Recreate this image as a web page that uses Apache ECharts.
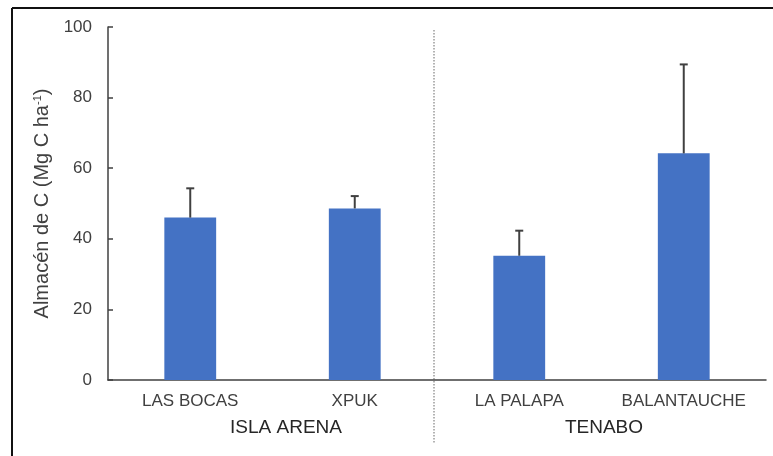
<!DOCTYPE html>
<html>
<head>
<meta charset="utf-8">
<script src="https://cdn.jsdelivr.net/npm/echarts@6/dist/echarts.min.js"></script>
<style>html,body{margin:0;padding:0;background:#fff;}#c{width:773px;height:456px;}</style>
</head>
<body>
<div id="c"></div>
<script>
const categories = ['LAS BOCAS', 'XPUK', 'LA PALAPA', 'BALANTAUCHE'];
const values = [46.0, 48.6, 35.2, 64.2];
const errors = [8.3, 3.5, 7.1, 25.2];
const groups = ['ISLA ARENA', 'TENABO'];
const yTicks = [0, 20, 40, 60, 80, 100];

const chart = echarts.init(document.getElementById('c'), null, {renderer: 'canvas'});
const font = '"Liberation Sans", Arial, sans-serif';
const errData = values.map((v, i) => [i, v, v + errors[i]]);

chart.setOption({
  animation: false,
  backgroundColor: '#fff',
  grid: {left: 108, right: 7, top: 27, bottom: 76, containLabel: false},
  xAxis: {
    type: 'category',
    data: categories,
    axisLine: {lineStyle: {color: '#404040', width: 1.5}},
    axisTick: {show: false},
    axisLabel: {fontSize: 17, color: '#404040', fontFamily: font, margin: 13, interval: 0}
  },
  yAxis: {
    type: 'value',
    min: yTicks[0], max: yTicks[yTicks.length - 1], interval: 20,
    name: 'Almacén de C (Mg C ha{sup|-1})',
    nameLocation: 'middle', nameRotate: 90, nameGap: 46,
    nameTextStyle: {fontSize: 20, color: '#404040', fontFamily: font,
      rich: {sup: {fontSize: 11, verticalAlign: 'top', color: '#404040', fontFamily: font, padding: [0,0,8,0]}}},
    axisLine: {show: true, lineStyle: {color: '#404040', width: 1.5}},
    axisTick: {show: true, inside: true, length: 5, lineStyle: {color: '#404040', width: 1.5}},
    splitLine: {show: false},
    axisLabel: {fontSize: 17, color: '#404040', fontFamily: font, margin: 16}
  },
  series: [
    {
      type: 'bar',
      data: values,
      barWidth: '31.5%',
      itemStyle: {color: '#4472C4'},
      z: 2
    },
    {
      type: 'custom',
      data: errData,
      z: 3,
      renderItem: function (params, api) {
        const x = api.value(0);
        const p0 = api.coord([x, api.value(1)]);
        const p1 = api.coord([x, api.value(2)]);
        const style = {stroke: '#404040', lineWidth: 2};
        return {
          type: 'group',
          children: [
            {type: 'line', shape: {x1: p0[0], y1: p0[1], x2: p1[0], y2: p1[1]}, style: style},
            {type: 'line', shape: {x1: p1[0] - 4, y1: p1[1], x2: p1[0] + 4, y2: p1[1]}, style: style}
          ]
        };
      }
    }
  ],
  graphic: [
    {type: 'line', shape: {x1: 12, y1: 8, x2: 773, y2: 8}, style: {stroke: '#111', lineWidth: 2}},
    {type: 'line', shape: {x1: 12, y1: 8, x2: 12, y2: 456}, style: {stroke: '#111', lineWidth: 2}},
    {type: 'line', shape: {x1: 434, y1: 30, x2: 434, y2: 444}, style: {stroke: '#9a9a9a', lineWidth: 1.5, lineDash: [1.5, 1.5]}},
    {type: 'text', x: 286, y: 428, style: {text: groups[0], fontSize: 19, fill: '#262626', fontFamily: font, textAlign: 'center', textVerticalAlign: 'middle'}},
    {type: 'text', x: 604, y: 428, style: {text: groups[1], fontSize: 19, fill: '#262626', fontFamily: font, textAlign: 'center', textVerticalAlign: 'middle'}}
  ]
});
</script>
</body>
</html>
